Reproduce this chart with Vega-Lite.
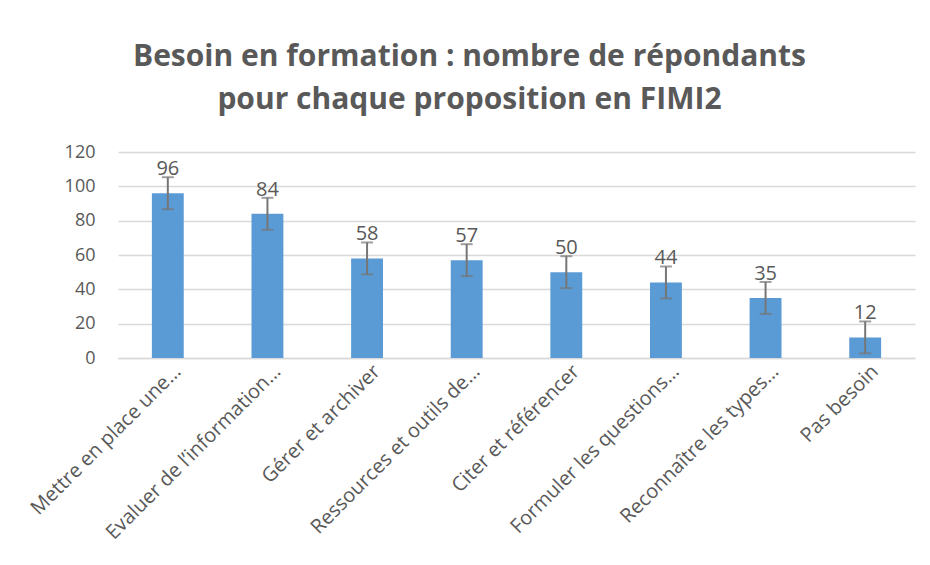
{
  "$schema": "https://vega.github.io/schema/vega-lite/v6.json",
  "autosize": {"type": "none"},
  "width": 797,
  "height": 206,
  "padding": {"left": 118, "top": 152, "right": 15, "bottom": 207},
  "background": "white",
  "config": {
    "font": "Open Sans",
    "view": {"stroke": null},
    "axis": {"labelColor": "#595959", "labelFont": "Open Sans", "gridColor": "#d9d9d9", "gridWidth": 1.3, "domainColor": "#d9d9d9", "domainWidth": 1.3, "ticks": false}
  },
  "title": {
    "text": ["Besoin en formation : nombre de répondants", "pour chaque proposition en FIMI2"],
    "font": "Open Sans",
    "fontSize": 30,
    "fontWeight": "bold",
    "color": "#595959",
    "anchor": "middle",
    "dx": -47,
    "offset": 28,
    "lineHeight": 43
  },
  "data": {
    "values": [
      {"proposition": "Mettre en place une…", "n": 96, "err": 9.3},
      {"proposition": "Evaluer de l’information…", "n": 84, "err": 9.3},
      {"proposition": "Gérer et archiver", "n": 58, "err": 9.3},
      {"proposition": "Ressources et outils de…", "n": 57, "err": 9.3},
      {"proposition": "Citer et référencer", "n": 50, "err": 9.3},
      {"proposition": "Formuler les questions…", "n": 44, "err": 9.3},
      {"proposition": "Reconnaître les types…", "n": 35, "err": 9.3},
      {"proposition": "Pas besoin", "n": 12, "err": 9.3}
    ]
  },
  "encoding": {
    "x": {
      "field": "proposition",
      "type": "nominal",
      "sort": null,
      "title": null,
      "scale": {"paddingInner": 0.68, "paddingOuter": 0.34},
      "axis": {"labelAngle": -45, "labelAlign": "right", "labelBaseline": "middle", "labelPadding": 10, "labelOffset": 10, "labelLimit": 300, "labelFontSize": 20, "labelOverlap": false}
    },
    "y": {
      "field": "n",
      "type": "quantitative",
      "title": null,
      "scale": {"domain": [0, 120]},
      "axis": {"values": [0, 20, 40, 60, 80, 100, 120], "domain": false, "labelPadding": 23, "labelFontSize": 18, "labelOverlap": false, "labelFlush": false}
    }
  },
  "layer": [
    {
      "mark": {"type": "bar", "color": "#5B9BD5"}
    },
    {
      "mark": {"type": "errorbar", "ticks": {"size": 12, "thickness": 2, "color": "#767676"}, "rule": {"strokeWidth": 2, "color": "#767676"}},
      "encoding": {
        "yError": {"field": "err"}
      }
    },
    {
      "mark": {"type": "text", "baseline": "bottom", "dy": -14, "fontSize": 20, "color": "#595959", "font": "Open Sans"},
      "encoding": {
        "text": {"field": "n", "type": "quantitative"}
      }
    }
  ]
}
